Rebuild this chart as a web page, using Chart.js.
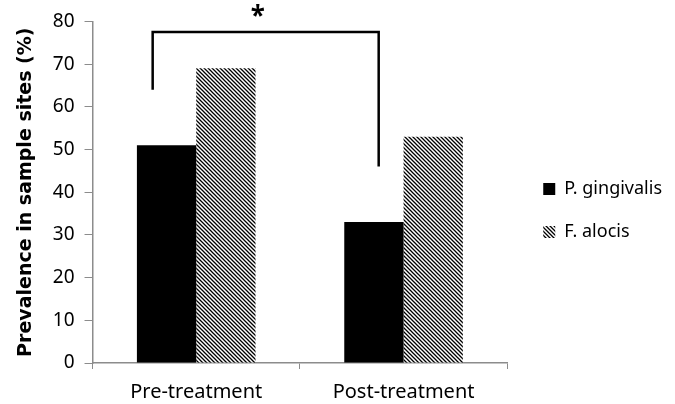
<!DOCTYPE html>
<html>
<head>
<meta charset="utf-8">
<script src="https://cdn.jsdelivr.net/npm/chart.js@4"></script>
<style>
  body { margin: 0; background: #fff; }
</style>
</head>
<body>
<canvas id="chart" width="675" height="404"></canvas>
<script>
'use strict';
// data
const categories = ['Pre-treatment', 'Post-treatment'];
const seriesNames = ['P. gingivalis', 'F. alocis'];
const pGingivalis = [51, 33];
const fAlocis = [69, 53];
const yMin = 0;
const yMax = 80;
const yStep = 10;
// significance bracket: left leg, top bar and right leg heights (data units)
const bracketLevels = [64, 77.5, 46];
const bracketLabel = '*';

const FONT = 'Noto Sans';
const AXIS_GREY = '#8c8c8c';

function makeHatch() {
    const c = document.createElement('canvas');
    c.width = 4;
    c.height = 4;
    const g = c.getContext('2d');
    g.fillStyle = '#fff';
    g.fillRect(0, 0, 4, 4);
    g.strokeStyle = '#000';
    g.lineWidth = 1.3;
    g.beginPath();
    g.moveTo(-1, -1); g.lineTo(5, 5);
    g.moveTo(-1, 3); g.lineTo(1, 5);
    g.moveTo(3, -1); g.lineTo(5, 1);
    g.stroke();
    return g.createPattern(c, 'repeat');
}

// draws the bracket and asterisk between the two black bars
const bracketPlugin = {
    id: 'bracket',
    afterDatasetsDraw(chart) {
        const ctx = chart.ctx;
        const x = chart.scales.x;
        const y = chart.scales.y;
        const catW = x.getPixelForValue(1) - x.getPixelForValue(0);
        const x1 = x.getPixelForValue(0) - 0.21 * catW;
        const x2 = x.getPixelForValue(1) - 0.12 * catW;
        const yl = y.getPixelForValue(bracketLevels[0]);
        const yt = y.getPixelForValue(bracketLevels[1]);
        const yr = y.getPixelForValue(bracketLevels[2]);
        ctx.save();
        ctx.strokeStyle = '#000';
        ctx.lineWidth = 2.5;
        ctx.beginPath();
        ctx.moveTo(x1, yl);
        ctx.lineTo(x1, yt);
        ctx.lineTo(x2, yt);
        ctx.lineTo(x2, yr);
        ctx.stroke();
        ctx.fillStyle = '#000';
        ctx.font = 'bold 26px ' + FONT;
        ctx.textAlign = 'center';
        ctx.textBaseline = 'middle';
        ctx.fillText(bracketLabel, (x1 + x2) / 2 - 8, yt - 14);
        ctx.restore();
    }
};

// nudges the legend to where the figure has it
const legendShift = {
    id: 'legendShift',
    afterLayout(chart) {
        const lg = chart.legend;
        const dx = 36 - lg.options.labels.padding;
        lg.left = chart.chartArea.right + dx;
        lg.right += dx;
        lg.top -= 2;
        lg.bottom -= 2;
    }
};

const hatch = makeHatch();

new Chart(document.getElementById('chart'), {
    type: 'bar',
    data: {
        labels: categories,
        datasets: [{
            label: seriesNames[0],
            data: pGingivalis,
            backgroundColor: '#000',
            categoryPercentage: 0.572,
            barPercentage: 1
        }, {
            label: seriesNames[1],
            data: fAlocis,
            backgroundColor: hatch,
            categoryPercentage: 0.572,
            barPercentage: 1
        }]
    },
    options: {
        responsive: false,
        animation: false,
        layout: { padding: { top: 10, left: 15, right: 14, bottom: -11 } },
        plugins: {
            tooltip: { enabled: false },
            legend: {
                position: 'right',
                labels: {
                    boxWidth: 12,
                    boxHeight: 12,
                    padding: 25,
                    color: '#000',
                    font: { family: FONT, size: 18 }
                }
            }
        },
        scales: {
            x: {
                grid: { drawOnChartArea: false, tickLength: 6, color: AXIS_GREY },
                border: { color: AXIS_GREY, width: 1.5 },
                ticks: { color: '#000', padding: 11, font: { family: FONT, size: 20 } }
            },
            y: {
                min: yMin,
                max: yMax,
                ticks: { stepSize: yStep, color: '#000', padding: 10, font: { family: FONT, size: 19 } },
                grid: { drawOnChartArea: false, tickLength: 8, color: AXIS_GREY },
                border: { color: AXIS_GREY, width: 1.5 },
                title: {
                    display: true,
                    text: 'Prevalence in sample sites (%)',
                    color: '#000',
                    padding: { top: 0, bottom: 5 },
                    font: { family: 'DejaVu Sans', size: 19, weight: 'bold' }
                }
            }
        }
    },
    plugins: [bracketPlugin, legendShift]
});
</script>
</body>
</html>
